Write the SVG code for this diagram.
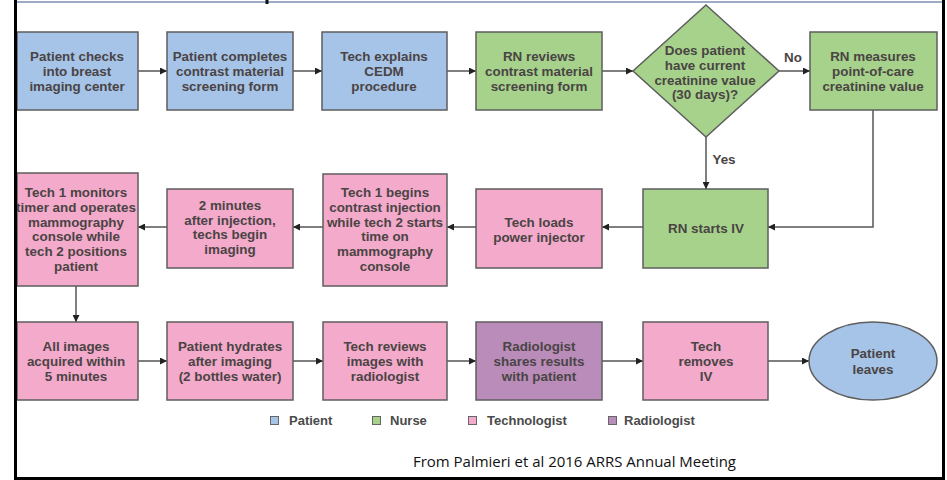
<svg xmlns="http://www.w3.org/2000/svg" width="947" height="480" viewBox="0 0 947 480">
<defs>
<style>
.box{stroke:#5e5e5e;stroke-width:1.5}
.pt{fill:#a6c3e8}
.nu{fill:#a6d28b}
.te{fill:#f4aacb}
.ra{fill:#b98cba}
.t{font-family:"Liberation Sans",Arial,sans-serif;font-weight:bold;font-size:13.4px;fill:#4a4444;text-anchor:middle}
.lg{font-family:"Liberation Sans",Arial,sans-serif;font-weight:bold;font-size:13px;fill:#4a4a4a}
.c{fill:none;stroke:#555;stroke-width:1.5}
.sw{stroke:#666;stroke-width:1}
</style>
<marker id="ah" viewBox="0 0 10 10" refX="10" refY="5" markerWidth="7" markerHeight="7" markerUnits="userSpaceOnUse" orient="auto">
<path d="M0,0 L10,5 L0,10 z" fill="#222"/>
</marker>
</defs>
<rect x="0" y="0" width="947" height="480" fill="#ffffff"/>
<!-- frame -->
<line x1="16" y1="2" x2="942" y2="2" stroke="#7d8fb0" stroke-width="1.5"/>
<rect x="265.5" y="0" width="3" height="4" fill="#111"/>

<g id="connectors">
<line class="c" x1="138" y1="71" x2="167" y2="71" marker-end="url(#ah)"/>
<line class="c" x1="293" y1="71" x2="322" y2="71" marker-end="url(#ah)"/>
<line class="c" x1="447" y1="71" x2="476" y2="71" marker-end="url(#ah)"/>
<line class="c" x1="602" y1="71" x2="633" y2="71" marker-end="url(#ah)"/>
<line class="c" x1="779" y1="71" x2="810" y2="71" marker-end="url(#ah)"/>
<text class="t" x="793" y="62">No</text>
<line class="c" x1="706" y1="137" x2="706" y2="189" marker-end="url(#ah)"/>
<text class="t" x="724" y="164">Yes</text>
<polyline class="c" points="873,110 873,227 768,227" marker-end="url(#ah)"/>
<line class="c" x1="643" y1="227" x2="602" y2="227" marker-end="url(#ah)"/>
<line class="c" x1="476" y1="227" x2="447" y2="227" marker-end="url(#ah)"/>
<line class="c" x1="323" y1="227" x2="293" y2="227" marker-end="url(#ah)"/>
<line class="c" x1="167" y1="227" x2="138" y2="227" marker-end="url(#ah)"/>
<line class="c" x1="76" y1="286" x2="76" y2="322" marker-end="url(#ah)"/>
<line class="c" x1="138" y1="361" x2="167" y2="361" marker-end="url(#ah)"/>
<line class="c" x1="293" y1="361" x2="323" y2="361" marker-end="url(#ah)"/>
<line class="c" x1="447" y1="361" x2="476" y2="361" marker-end="url(#ah)"/>
<line class="c" x1="602" y1="361" x2="643" y2="361" marker-end="url(#ah)"/>
<line class="c" x1="768" y1="361" x2="809" y2="361" marker-end="url(#ah)"/>
</g>

<g id="n1"><rect class="box pt" x="17" y="32" width="121" height="78"/>
<text class="t" x="77" y="61">Patient checks</text><text class="t" x="77" y="76">into breast</text><text class="t" x="77" y="91">imaging center</text></g>
<g id="n2"><rect class="box pt" x="167" y="32" width="126" height="78"/>
<text class="t" x="230" y="61">Patient completes</text><text class="t" x="230" y="76">contrast material</text><text class="t" x="230" y="91">screening form</text></g>
<g id="n3"><rect class="box pt" x="322" y="32" width="125" height="78"/>
<text class="t" x="384" y="61">Tech explains</text><text class="t" x="384" y="76">CEDM</text><text class="t" x="384" y="91">procedure</text></g>
<g id="n4"><rect class="box nu" x="476" y="32" width="126" height="78"/>
<text class="t" x="539" y="61">RN reviews</text><text class="t" x="539" y="76">contrast material</text><text class="t" x="539" y="91">screening form</text></g>
<g id="n5"><polygon class="box nu" points="706,5 779,71 706,137 633,71"/>
<text class="t" x="705" y="54.5">Does patient</text><text class="t" x="705" y="69.5">have current</text><text class="t" x="705" y="84.5">creatinine value</text><text class="t" x="705" y="99">(30 days)?</text></g>
<g id="n6"><rect class="box nu" x="810" y="32" width="127" height="78"/>
<text class="t" x="873" y="61">RN measures</text><text class="t" x="873" y="76">point-of-care</text><text class="t" x="873" y="91">creatinine value</text></g>

<g id="n7"><rect class="box nu" x="643" y="189" width="125" height="79"/>
<text class="t" x="706" y="233">RN starts IV</text></g>
<g id="n8"><rect class="box te" x="476" y="189" width="126" height="79"/>
<text class="t" x="539" y="227">Tech loads</text><text class="t" x="539" y="242">power injector</text></g>
<g id="n9"><rect class="box te" x="323" y="174" width="124" height="112"/>
<text class="t" x="385" y="197">Tech 1 begins</text><text class="t" x="385" y="212">contrast injection</text><text class="t" x="385" y="226.5">while tech 2 starts</text><text class="t" x="385" y="241">time on</text><text class="t" x="385" y="256">mammography</text><text class="t" x="385" y="271">console</text></g>
<g id="n10"><rect class="box te" x="167" y="189" width="126" height="79"/>
<text class="t" x="230" y="209.5">2 minutes</text><text class="t" x="230" y="224.5">after injection,</text><text class="t" x="230" y="239">techs begin</text><text class="t" x="230" y="254">imaging</text></g>
<g id="n11"><rect class="box te" x="17" y="173" width="121" height="113"/>
<text class="t" x="76" y="197">Tech 1 monitors</text><text class="t" x="76" y="212">timer and operates</text><text class="t" x="76" y="226.5">mammography</text><text class="t" x="76" y="241">console while</text><text class="t" x="76" y="256">tech 2 positions</text><text class="t" x="76" y="271">patient</text></g>

<g id="n12"><rect class="box te" x="17" y="322" width="121" height="78"/>
<text class="t" x="76" y="351">All images</text><text class="t" x="76" y="366">acquired within</text><text class="t" x="76" y="381">5 minutes</text></g>
<g id="n13"><rect class="box te" x="167" y="322" width="126" height="78"/>
<text class="t" x="230" y="351">Patient hydrates</text><text class="t" x="230" y="366">after imaging</text><text class="t" x="230" y="381">(2 bottles water)</text></g>
<g id="n14"><rect class="box te" x="323" y="322" width="124" height="78"/>
<text class="t" x="385" y="351">Tech reviews</text><text class="t" x="385" y="366">images with</text><text class="t" x="385" y="381">radiologist</text></g>
<g id="n15"><rect class="box ra" x="476" y="322" width="126" height="78"/>
<text class="t" x="539" y="351">Radiologist</text><text class="t" x="539" y="366">shares results</text><text class="t" x="539" y="381">with patient</text></g>
<g id="n16"><rect class="box te" x="643" y="322" width="125" height="78"/>
<text class="t" x="706" y="351">Tech</text><text class="t" x="706" y="366">removes</text><text class="t" x="706" y="381">IV</text></g>
<g id="n17"><ellipse class="box pt" cx="873" cy="361" rx="64" ry="39"/>
<text class="t" x="873" y="358">Patient</text><text class="t" x="873" y="374">leaves</text></g>

<g id="legend">
<rect class="sw pt" x="270.5" y="416.5" width="8" height="8"/><text class="lg" x="289" y="425">Patient</text>
<rect class="sw nu" x="372.5" y="416.5" width="8" height="8"/><text class="lg" x="390" y="425">Nurse</text>
<rect class="sw te" x="468.5" y="416.5" width="8" height="8"/><text class="lg" x="487" y="425">Technologist</text>
<rect class="sw ra" x="608.5" y="416.5" width="8" height="8"/><text class="lg" x="624" y="425">Radiologist</text>
</g>
<text x="413" y="467" font-family="Open Sans,'Liberation Sans',sans-serif" font-size="14.5" fill="#111" textLength="323" lengthAdjust="spacingAndGlyphs">From Palmieri et al 2016 ARRS Annual Meeting</text>
<line x1="15.5" y1="0" x2="15.5" y2="479" stroke="#000" stroke-width="3"/>
<line x1="943.5" y1="0" x2="943.5" y2="479" stroke="#000" stroke-width="3"/>
<line x1="14" y1="478.5" x2="945" y2="478.5" stroke="#000" stroke-width="3"/>
</svg>
